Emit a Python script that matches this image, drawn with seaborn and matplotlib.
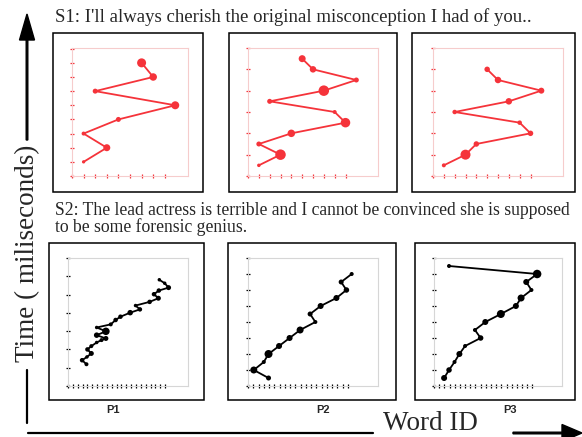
import numpy as np
import matplotlib
matplotlib.use("Agg")
import matplotlib.pyplot as plt
from matplotlib.patches import Rectangle
import seaborn as sns

# ---- data: word id (x), time step (y), marker weight (approx. dot diameter) ----
# S1 panels
s1_p1_x = [1, 3, 1, 4, 8.9, 2, 7, 6]
s1_p1_y = [1, 2, 3, 4, 5, 6, 7, 8]
s1_p1_w = [3.3, 7, 4, 5, 8, 5, 7.5, 9]

s1_p2_x = [1, 3, 1, 4, 9, 8, 2, 7, 10, 6, 5]
s1_p2_y = [0.5, 1, 1.5, 2, 2.5, 3, 3.5, 4, 4.5, 5, 5.5]
s1_p2_w = [3.5, 10.5, 5, 7.5, 9.5, 4, 5, 10.5, 5, 6.5, 7]

s1_p3_x = [1, 3, 4, 9, 8, 2, 7, 10, 6, 5]
s1_p3_y = [0.5, 1, 1.5, 2, 2.5, 3, 3.5, 4, 4.5, 5]
s1_p3_w = [4, 10, 5.5, 5.5, 4.5, 4.5, 6.5, 6, 6.5, 5.5]

# S2 panels
s2_p1_x = [3.8, 2.9, 3.9, 4.8, 4.0, 4.8, 5.9, 6.9, 7.8, 5.9, 7.8, 5.9, 8.8,
           9.8, 10.8, 12.8, 14.8, 13.9, 16.8, 18.6, 17.7, 18.7, 20.7, 19.9, 18.8]
s2_p1_y = [1.19, 1.41, 1.59, 1.78, 2.0, 2.18, 2.38, 2.51, 2.6, 2.78, 2.99, 3.2,
           3.37, 3.61, 3.79, 4.01, 4.19, 4.4, 4.6, 4.8, 5.02, 5.22, 5.38, 5.62, 5.81]
s2_p1_w = [4, 4.5, 3.5, 5, 4.5, 4, 3.5, 4, 5, 5.5, 7.5, 3.5, 4, 4.5, 4.5, 5.5,
           4.5, 3.5, 4.5, 5, 4.5, 4.5, 5, 3.5, 3.5]

s2_p2_x = [3.9, 1.1, 3.0, 3.9, 5.9, 7.9, 9.9, 12.8, 11.8, 13.8, 16.8, 18.7, 17.7, 19.7]
s2_p2_y = [0.5, 1, 1.5, 2, 2.5, 3, 3.5, 4, 4.5, 5, 5.5, 6, 6.5, 7]
s2_p2_w = [5, 7, 4, 8, 6, 6, 7, 4, 5, 6, 6, 5.5, 5, 4]

s2_p3_x = [1.95, 2.9, 3.96, 4.9, 6.0, 9.0, 7.9, 9.9, 12.9, 15.8, 16.8, 18.8, 17.8, 19.9, 2.9]
s2_p3_y = [0.5, 1, 1.5, 2, 2.5, 3, 3.5, 4, 4.5, 5, 5.5, 6, 6.5, 7, 7.5]
s2_p3_w = [6, 5.5, 4, 6, 4, 5.5, 4, 6, 8, 6, 7, 4, 6, 8.5, 4]

panel_labels = ["P1", "P2", "P3"]
s1_text = "S1: I'll always cherish the original misconception I had of you.."
s2_text = ("S2: The lead actress is terrible and I cannot be convinced she is supposed\n"
           "to be some forensic genius.")

sns.set_style("white")
plt.rcParams['font.family'] = ['Liberation Serif', 'DejaVu Serif']

W, H = 582, 437
fig = plt.figure(figsize=(W / 100, H / 100), dpi=100)


def px_axes(x0, y0, x1, y1):
    # pixel box (top-left origin) -> figure axes
    return fig.add_axes([x0 / W, 1 - y1 / H, (x1 - x0) / W, (y1 - y0) / H])


def panel(box, x, y, w, color, spine_c, xlim, ylim, xticks, yticks):
    ax = px_axes(*box)
    sns.lineplot(x=x, y=y, sort=False, estimator=None, color=color,
                 linewidth=1.3, ax=ax)
    s = (np.array(w) * 0.72) ** 2
    sns.scatterplot(x=x, y=y, s=s, color=color, linewidth=0, ax=ax,
                    legend=False, zorder=3, clip_on=False)
    ax.set_xlim(*xlim)
    ax.set_ylim(*ylim)
    ax.set_xticks(xticks)
    ax.set_yticks(yticks)
    ax.set_xticklabels([])
    ax.set_yticklabels([])
    ax.set_xlabel("")
    ax.set_ylabel("")
    ax.tick_params(direction="inout", length=2.5, width=0.9, color=color,
                   bottom=True, left=True)
    for sp in ax.spines.values():
        sp.set_color(spine_c)
        sp.set_linewidth(0.8)
    return ax


red = "#f5333a"
pink = "#f6cccc"
grey = "#d6d6d6"

# outer boxes (frames around each panel)
boxes = [(53, 33, 203, 192), (229, 33, 397, 192), (412, 33, 575, 192),
         (49, 243, 204, 400), (228, 243, 396, 400), (415, 243, 575, 400)]
for (x0, y0, x1, y1) in boxes:
    fig.add_artist(Rectangle((x0 / W, 1 - y1 / H), (x1 - x0) / W, (y1 - y0) / H,
                             transform=fig.transFigure, fill=False,
                             edgecolor="black", linewidth=1.1))

panel((72, 48, 188, 176), s1_p1_x, s1_p1_y, s1_p1_w, red, pink,
      (0, 10), (0, 9.05), range(0, 9), range(0, 10))
panel((248, 48, 378, 176), s1_p2_x, s1_p2_y, s1_p2_w, red, pink,
      (0, 12), (0, 6), range(0, 10), range(0, 7))
panel((433, 48, 563, 176), s1_p3_x, s1_p3_y, s1_p3_w, red, pink,
      (0, 12), (0, 6), range(0, 10), range(0, 7))

panel((68, 258, 188, 386), s2_p1_x, s2_p1_y, s2_p1_w, "black", grey,
      (0, 24.7), (0, 7), range(0, 21), range(0, 8))
panel((248, 258, 378, 386), s2_p2_x, s2_p2_y, s2_p2_w, "black", grey,
      (0, 24.7), (0, 8), range(0, 20), range(0, 9))
panel((434, 258, 562, 386), s2_p3_x, s2_p3_y, s2_p3_w, "black", grey,
      (0, 24.7), (0, 8), range(0, 20), range(0, 9))

# overlay in pixel coordinates for text and arrows
ov = fig.add_axes([0, 0, 1, 1])
ov.set_xlim(0, W)
ov.set_ylim(H, 0)
ov.axis("off")
ov.patch.set_visible(False)

ov.text(55, 17, s1_text, fontsize=13.5, va="center", ha="left")
ov.text(55, 219, s2_text, fontsize=12.7, va="center", ha="left", linespacing=0.98)

for lab, xx in zip(panel_labels, [113, 323, 510]):
    ov.text(xx, 410, lab, fontsize=8, fontweight="bold", ha="center", va="center",
            family=["Liberation Sans", "DejaVu Sans"])

ov.text(28, 253, "Time ( miliseconds)", fontsize=19.5, rotation=90,
        ha="center", va="center")
ov.text(430, 424, "Word ID", fontsize=19.5, ha="center", va="center")

# vertical arrow
ov.arrow(27, 140, 0, -126, width=1.6, head_width=15, head_length=26,
         length_includes_head=True, color="black")
ov.plot([27, 27], [370, 423], color="black", linewidth=1.6)
# horizontal arrow
ov.plot([28, 373], [433, 433], color="black", linewidth=1.6)
ov.arrow(513, 433, 69, 0, width=1.6, head_width=17, head_length=20,
         length_includes_head=True, color="black")

fig.savefig("out.png", dpi=100)
